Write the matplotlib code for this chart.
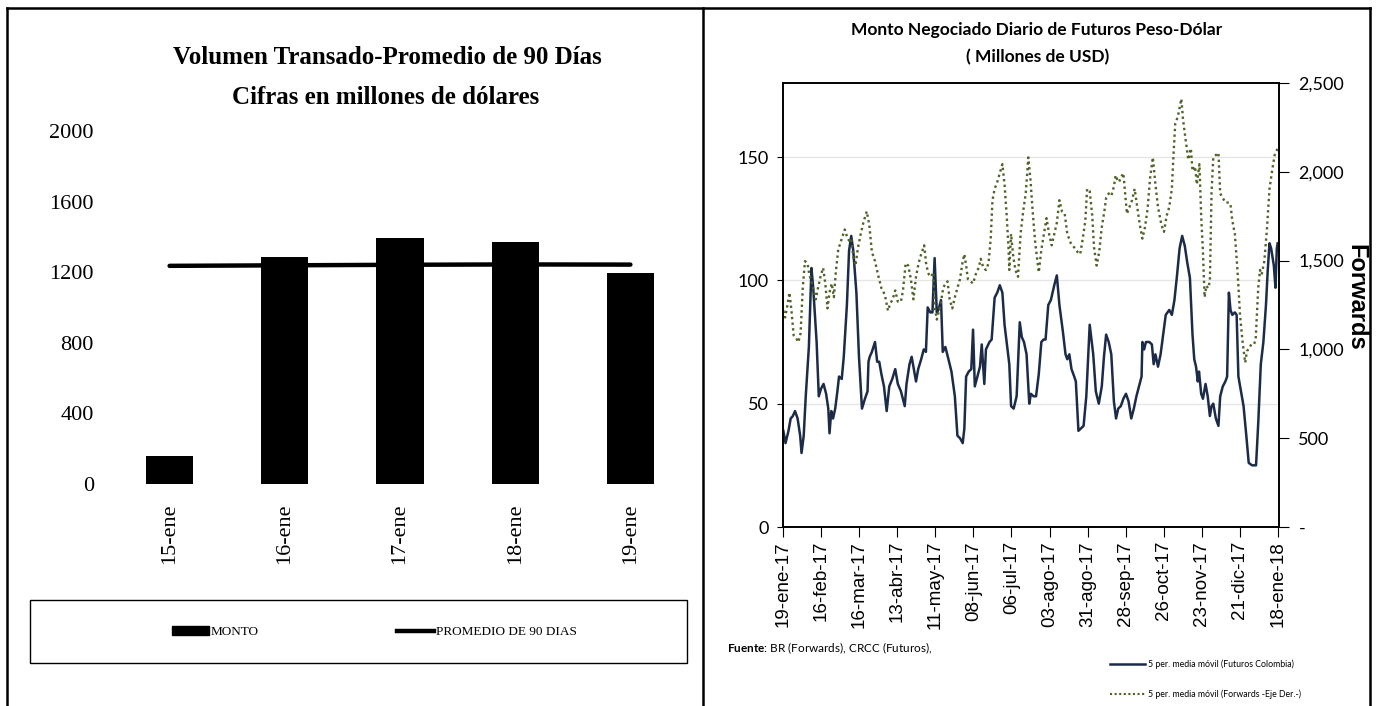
import matplotlib.pyplot as plt
import numpy as np
import pandas as pd
from matplotlib.lines import Line2D
from matplotlib.patches import Patch, Rectangle

# --- panel izquierdo: volumen transado ---
fechas_ene = ['15-ene', '16-ene', '17-ene', '18-ene', '19-ene']
monto = [158, 1288, 1392, 1372, 1198]
promedio_90 = [1236, 1239, 1242, 1244, 1243]

# --- panel derecho: medias moviles (dias desde 19-ene-17) ---
fut_dia = [0, 1.6, 3.8, 5.4, 7.0, 8.6, 10.5, 12.4, 13.4, 15.0, 16.5, 18.8, 20.7, 22.0, 24.5, 26.1,
           27.7, 29.6, 31.5, 33.1, 34.0, 35.3, 36.6, 38.2, 39.8, 41.0, 43.0, 44.5, 46.8, 48.4, 50.0,
           51.5, 53.8, 55.7, 57.9, 60.1, 62.0, 62.7, 63.6, 65.2, 67.5, 69.1, 70.6, 72.2, 74.1, 76.1,
           78.0, 80.2, 82.4, 84.3, 86.6, 89.4, 90.7, 92.9, 94.5, 96.1, 97.7, 99.3, 101.5, 103.4,
           105.0, 106.3, 108.2, 109.8, 111.4, 113.0, 114.2, 116.1, 117.4, 119.3, 121.6, 123.8,
           126.3, 128.2, 130.1, 132.1, 133.3, 134.6, 136.5, 138.4, 139.7, 141.0, 142.9, 144.8,
           146.1, 148.0, 149.2, 151.8, 153.4, 155.6, 157.5, 159.4, 161.3, 162.9, 165.1, 166.4,
           167.7, 169.6, 171.8, 174.1, 175.6, 177.2, 179.1, 181.1, 182.3, 184.2, 186.1, 188.1,
           190.0, 191.6, 193.1, 195.1, 197.0, 199.5, 201.4, 203.3, 205.9, 207.8, 209.1, 210.6,
           212.2, 214.2, 215.4, 217.3, 219.2, 221.1, 223.1, 225.6, 228.2, 230.1, 232.3, 234.5,
           236.1, 237.7, 239.6, 241.5, 243.4, 245.0, 246.6, 248.5, 250.4, 252.3, 254.2, 256.2,
           258.1, 260.0, 261.9, 263.8, 264.4, 265.7, 267.0, 269.5, 271.4, 272.7, 274.0, 275.9,
           277.8, 279.7, 281.6, 284.2, 286.1, 288.0, 289.9, 291.8, 293.7, 295.6, 297.5, 299.4,
           301.3, 302.6, 303.9, 305.2, 306.1, 307.7, 309.0, 310.9, 312.5, 314.1, 315.3, 316.6,
           318.5, 320.4, 321.7, 323.6, 325.5, 326.8, 328.1, 329.3, 330.6, 332.5, 333.8, 335.1,
           337.0, 338.9, 341.1, 342.7, 345.2, 348.1, 349.7, 351.6, 353.5, 355.4, 356.7, 358.0,
           359.2, 361.2, 362.4, 363.4, 364.0]
fut_val = [39, 34, 39, 44, 45, 47, 44, 37, 30, 37, 53, 73, 105, 97, 75, 53,
           56, 58, 54, 48, 38, 47, 44, 48, 55, 61, 60, 69, 90, 112, 118,
           112, 95, 69, 48, 52, 55, 67, 69, 71, 75, 67, 67, 62, 57, 47,
           57, 60, 64, 58, 55, 49, 58, 66, 69, 64, 59, 64, 68, 72,
           71, 89, 87, 87, 109, 87, 88, 92, 71, 73, 68, 63,
           53, 37, 36, 34, 40, 61, 63, 64, 80, 57, 61, 65,
           74, 58, 72, 75, 76, 93, 95, 98, 95, 82, 72, 66,
           49, 48, 53, 83, 77, 75, 70, 50, 54, 53, 53, 62,
           75, 76, 76, 90, 92, 98, 102, 90, 79, 70, 68, 70,
           64, 61, 59, 39, 40, 41, 53, 82, 70, 55, 50, 57,
           69, 78, 75, 70, 51, 44, 48, 49, 52, 54, 51, 44,
           48, 53, 57, 61, 75, 72, 75, 75, 74, 66, 70, 65,
           70, 78, 86, 88, 86, 92, 102, 113, 118, 114, 107, 101,
           78, 68, 65, 59, 63, 54, 52, 58, 53, 45, 49, 50,
           44, 41, 53, 57, 59, 61, 95, 88, 86, 87, 86, 61,
           55, 49, 36, 26, 25, 25, 42, 66, 75, 90, 104, 115,
           113, 106, 97, 113, 115]

fwd_dia = [0, 1.3, 2.9, 4.5, 6.0, 7.6, 9.2, 11.1, 12.7, 14.3, 15.9, 17.8, 19.1, 20.7, 22.3, 23.9,
           25.5, 27.7, 29.3, 30.9, 32.5, 34.0, 35.6, 37.2, 38.8, 40.4, 42.0, 43.6, 45.2, 46.8,
           48.4, 50.0, 51.5, 53.1, 55.0, 57.0, 58.9, 61.4, 63.3, 65.2, 67.5, 69.7, 72.2, 74.8,
           77.0, 78.6, 80.5, 82.4, 84.3, 86.6, 88.1, 90.1, 92.0, 93.9, 95.8, 97.7, 99.6, 101.5,
           103.7, 105.3, 107.2, 108.8, 110.4, 111.4, 113.0, 114.6, 116.1, 117.7, 119.3, 120.9,
           122.5, 124.4, 126.3, 128.2, 130.1, 132.1, 133.3, 134.6, 135.9, 137.8, 139.7, 141.6,
           143.8, 145.4, 147.3, 149.2, 151.1, 152.7, 154.0, 155.6, 157.5, 159.4, 161.3, 162.9,
           164.5, 165.8, 166.4, 167.7, 169.3, 170.9, 172.8, 174.7, 176.6, 178.5, 180.4, 182.0,
           183.6, 185.5, 188.1, 190.0, 191.9, 193.8, 195.7, 197.6, 199.5, 201.4, 203.3, 205.2,
           207.2, 209.1, 211.6, 214.2, 216.7, 218.6, 220.5, 222.4, 223.7, 225.6, 227.5, 228.8,
           230.7, 232.6, 234.5, 236.4, 237.7, 239.6, 241.5, 243.4, 244.7, 246.0, 247.2, 248.5,
           250.4, 251.7, 253.0, 254.9, 256.8, 258.7, 260.6, 262.5, 264.4, 266.3, 268.2, 270.1,
           272.1, 274.0, 275.9, 277.2, 278.4, 280.3, 282.2, 284.2, 286.1, 287.3, 288.6, 290.5,
           291.8, 293.1, 294.3, 296.2, 298.2, 300.1, 301.3, 303.2, 304.5, 306.4, 307.7, 309.0,
           310.2, 311.5, 312.8, 314.1, 315.3, 316.6, 318.5, 320.4, 321.7, 323.6, 325.5, 328.1,
           329.3, 330.6, 332.5, 334.4, 336.3, 338.2, 340.1, 341.4, 342.7, 344.6, 346.5, 347.8,
           349.7, 351.0, 352.2, 354.2, 356.1, 358.0, 359.9, 361.8, 364.0]
fwd_val = [1218, 1180, 1244, 1320, 1218, 1079, 1066, 1041, 1091, 1345, 1497, 1485, 1421, 1383, 1332, 1282,
           1345, 1421, 1459, 1371, 1231, 1320, 1371, 1294, 1447, 1561, 1599, 1637, 1675, 1637,
           1612, 1624, 1523, 1472, 1574, 1650, 1713, 1777, 1701, 1548, 1497, 1421, 1345, 1307,
           1218, 1256, 1282, 1332, 1269, 1269, 1332, 1485, 1472, 1396, 1282, 1409, 1485, 1536,
           1586, 1472, 1421, 1409, 1434, 1244, 1168, 1218, 1269, 1345, 1371, 1383,
           1282, 1231, 1294, 1345, 1396, 1497, 1536, 1472, 1396, 1383, 1371, 1421,
           1459, 1510, 1459, 1447, 1485, 1624, 1840, 1904, 1942, 1992, 2043, 1929,
           1751, 1574, 1447, 1650, 1523, 1447, 1409, 1650, 1777, 1878, 2081, 1954,
           1777, 1599, 1434, 1561, 1650, 1739, 1650, 1586, 1650, 1713, 1840, 1777,
           1764, 1650, 1599, 1574, 1548, 1536, 1624, 1726, 1904, 1891, 1751, 1574,
           1472, 1548, 1688, 1777, 1853, 1878, 1865, 1916, 1980, 1954, 1942, 1967,
           1992, 1878, 1764, 1802, 1840, 1904, 1802, 1701, 1624, 1688, 1789, 1967,
           2081, 1929, 1802, 1751, 1701, 1662, 1751, 1802, 1904, 2094, 2272, 2310,
           2360, 2411, 2297, 2183, 2068, 2132, 2005, 2030, 1929, 2043, 1751, 1548,
           1294, 1358, 1345, 1383, 1878, 2081, 2094, 2107, 1878, 1853, 1827, 1827,
           1815, 1726, 1650, 1447, 1193, 1041, 925, 990, 1003, 1028, 1028, 1053,
           1345, 1447, 1421, 1497, 1675, 1904, 2005, 2094, 2132]

fecha_labels = ['19-ene-17', '16-feb-17', '16-mar-17', '13-abr-17', '11-may-17', '08-jun-17',
                '06-jul-17', '03-ago-17', '31-ago-17', '28-sep-17', '26-oct-17', '23-nov-17',
                '21-dic-17', '18-ene-18']

W, H = 1377, 706

serif = 'Liberation Serif'
calibri = 'Lato'
arial = 'Liberation Sans'

plt.rcParams['mathtext.fontset'] = 'custom'
plt.rcParams['mathtext.rm'] = calibri
plt.rcParams['mathtext.bf'] = calibri + ':bold'

fig = plt.figure(figsize=(13.77, 7.06), dpi=100)


def fx(px):
    return px / W


def fy(py):
    return 1 - py / H


# marco exterior
for xs, ys in [([7, 7], [8, 706]), ([7, 1370], [8, 8]), ([703, 703], [8, 706]), ([1370, 1370], [8, 706])]:
    fig.add_artist(Line2D([fx(v) for v in xs], [fy(v) for v in ys], color='black', lw=1.8))

# ---------------- panel izquierdo ----------------
ax1 = fig.add_axes([fx(112), fy(484), fx(688) - fx(112), (484 - 131) / H])
x = np.arange(len(fechas_ene))
ax1.bar(x, monto, width=0.41, color='black')
ax1.plot(x, promedio_90, color='black', lw=3.2, solid_capstyle='round')
ax1.set_xlim(-0.5, 4.5)
ax1.set_ylim(0, 2000)
ax1.set_yticks(range(0, 2001, 400))
ax1.set_xticks(x)
ax1.set_xticklabels(fechas_ene, rotation=90, fontfamily=serif, fontsize=16)
for lab in ax1.get_yticklabels():
    lab.set_fontfamily(serif)
ax1.tick_params(axis='y', length=0, labelsize=16, pad=13)
ax1.tick_params(axis='x', length=0, pad=14)
for s in ax1.spines.values():
    s.set_visible(False)

fig.text(fx(387), fy(57), 'Volumen Transado-Promedio de 90 Días', ha='center', va='center',
         fontfamily=serif, fontweight='bold', fontsize=18)
fig.text(fx(386), fy(97), 'Cifras en millones de dólares', ha='center', va='center',
         fontfamily=serif, fontweight='bold', fontsize=18)

fig.add_artist(Rectangle((fx(30), fy(663)), fx(687) - fx(30), (663 - 600) / H,
                         fill=False, edgecolor='black', lw=1.0))
h1 = [Patch(facecolor='black', edgecolor='black'), Line2D([0], [0], color='black', lw=3.2)]
fig.legend(h1, ['MONTO', 'PROMEDIO DE 90 DIAS'], loc='center left',
           bbox_to_anchor=(fx(160), fy(632)), ncol=2, frameon=False,
           prop={'family': serif, 'size': 9.5}, handlelength=2.8, handletextpad=0.15,
           columnspacing=10.5)

# ---------------- panel derecho ----------------
navy = '#1b2b48'
olive = '#4f6228'
t0 = pd.Timestamp('2017-01-19')
fut_fechas = t0 + pd.to_timedelta(fut_dia, unit='D')
fwd_fechas = t0 + pd.to_timedelta(fwd_dia, unit='D')
ticks = [t0 + pd.Timedelta(days=28 * k) for k in range(len(fecha_labels))]

ax2 = fig.add_axes([fx(783), fy(527), fx(1279) - fx(783), (527 - 83) / H])
ax2.plot(fut_fechas, fut_val, color=navy, lw=1.8, zorder=3)
ax2.set_ylim(0, 180)
ax2.set_yticks([0, 50, 100, 150])
ax2.set_xlim(t0 - pd.Timedelta(hours=6), t0 + pd.Timedelta(days=365))
ax2.set_xticks(ticks)
ax2.set_xticklabels(fecha_labels, rotation=90, fontfamily=arial, fontsize=13.5)
ax2.grid(axis='y', color='#e6e6e6', lw=1)
ax2.set_axisbelow(True)
ax2.tick_params(axis='y', direction='out', length=4, labelsize=13, pad=6)
ax2.tick_params(axis='x', direction='out', length=7, pad=3)
for lab in ax2.get_yticklabels():
    lab.set_fontfamily(calibri)
for s in ax2.spines.values():
    s.set_linewidth(1.2)

ax3 = ax2.twinx()
ax3.plot(fwd_fechas, fwd_val, color=olive, lw=1.7, ls=(0, (1, 1.4)))
ax3.set_ylim(0, 2500)
ax3.set_yticks(range(0, 2501, 500))
ax3.set_yticklabels(['-'] + ['{:,}'.format(v) for v in range(500, 2501, 500)],
                    fontfamily=calibri, fontsize=13)
ax3.tick_params(axis='y', direction='out', length=7, pad=7)
for s in ax3.spines.values():
    s.set_linewidth(1.2)

fig.text(fx(1356), fy(297), 'Forwards', rotation=-90, ha='center', va='center',
         fontfamily=arial, fontweight='bold', fontsize=17)
fig.text(fx(1037), fy(30), 'Monto Negociado Diario de Futuros Peso-Dólar', ha='center', va='center',
         fontfamily=calibri, fontweight='bold', fontsize=12.5)
fig.text(fx(1038), fy(57), '( Millones de USD)', ha='center', va='center',
         fontfamily=calibri, fontweight='bold', fontsize=12.5)

fig.text(fx(727), fy(648), r'$\mathbf{Fuente}$: BR (Forwards), CRCC (Futuros),', ha='left', va='center',
         fontfamily=calibri, fontsize=8.5)

h2 = [Line2D([0], [0], color=navy, lw=1.8), Line2D([0], [0], color=olive, lw=1.5, ls=(0, (1, 1.2)))]
fig.legend(h2, ['5 per. media móvil (Futuros Colombia)', '5 per. media móvil (Forwards -Eje Der.-)'],
           loc='upper left', bbox_to_anchor=(fx(1102), fy(652)), frameon=False,
           prop={'family': calibri, 'size': 6.3}, handlelength=4.0, handletextpad=0.3,
           labelspacing=2.3)

fig.savefig('out.png', dpi=100)
